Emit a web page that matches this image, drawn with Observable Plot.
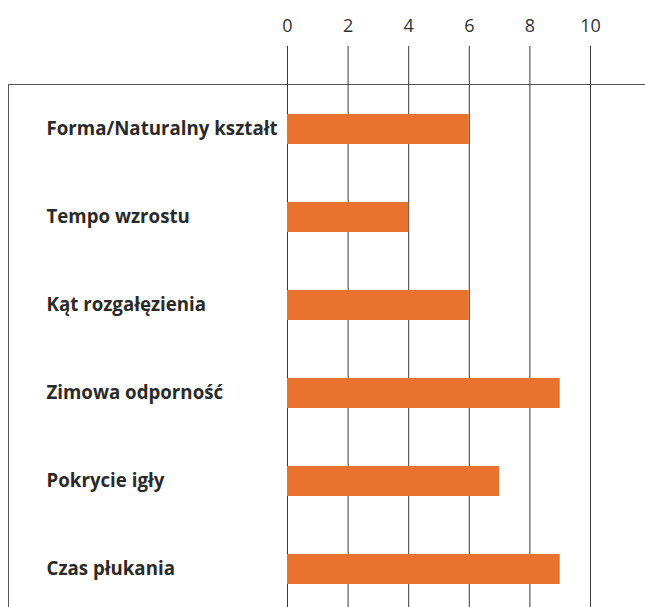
<!DOCTYPE html>
<html>
<head>
<meta charset="utf-8">
<script src="https://cdn.jsdelivr.net/npm/d3@7"></script>
<script src="https://cdn.jsdelivr.net/npm/@observablehq/plot@0.6"></script>
<style>
  html, body { margin: 0; padding: 0; background: #fff; }
  #wrap { position: relative; width: 645px; height: 607px; overflow: hidden; }
  #box { position: absolute; left: 8px; top: 84px; right: 0; bottom: -2px;
         border-top: 1px solid #555; border-left: 1px solid #555; }
  #wrap svg { position: absolute; left: 0; top: 0; }
</style>
</head>
<body>
<div id="wrap"><div id="box"></div></div>
<script>
const categories = ["Forma/Naturalny kształt", "Tempo wzrostu", "Kąt rozgałęzienia", "Zimowa odporność", "Pokrycie igły", "Czas płukania"];
const values = [6, 4, 6, 9, 7, 9];
const ticks = [0, 2, 4, 6, 8, 10];

const data = categories.map((c, i) => ({category: c, value: values[i]}));

const chart = Plot.plot({
  width: 645,
  height: 607,
  marginLeft: 287,
  marginRight: 55,
  marginTop: 46,
  marginBottom: 0,
  style: {fontFamily: "'Open Sans', sans-serif", background: "transparent", overflow: "visible"},
  x: {domain: [0, 10], ticks: ticks},
  y: {type: "band", axis: null, domain: categories, range: [84, 84 + 6 * 88.2], paddingInner: 0.66, paddingOuter: 0.33},
  marks: [
    Plot.gridX(ticks, {stroke: "#3a3a3a", strokeOpacity: 1, strokeWidth: 1}),
    Plot.axisX({anchor: "top", ticks: ticks, tickSize: 0, tickPadding: 15, fontSize: 18, fill: "#333", label: null}),
    Plot.barX(data, {x: "value", y: "category", fill: "#e8732e"}),
    Plot.text(data, {y: "category", text: "category", frameAnchor: "left", textAnchor: "start", dx: -241,
      fontSize: 18.7, fontWeight: 700, fill: "#2a2a2a"})
  ]
});
document.getElementById("wrap").appendChild(chart);
</script>
</body>
</html>
